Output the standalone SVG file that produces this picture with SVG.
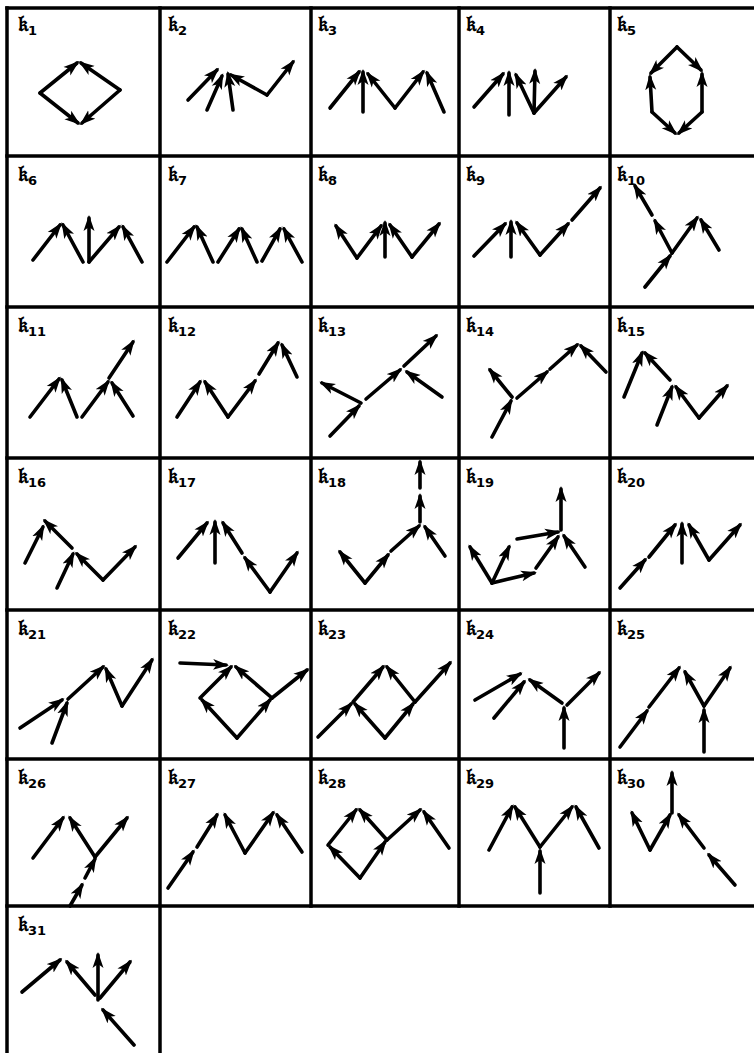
<svg xmlns="http://www.w3.org/2000/svg" width="754" height="1053" viewBox="0 0 754 1053">
<style>
.g{stroke:#000;stroke-width:3.5;fill:none;stroke-linecap:square}
.a line{stroke:#000;stroke-width:3.6;stroke-linecap:round;marker-end:url(#h)}
.lb{font-family:"DejaVu Serif","DejaVu Sans",serif;font-weight:bold;font-size:22px;fill:#000}
.lb tspan{font-family:"DejaVu Sans",sans-serif;font-weight:bold;font-size:13px}
</style>
<defs>
<marker id="h" viewBox="0 0 16 12" markerWidth="16" markerHeight="12" refX="13" refY="6" orient="auto" markerUnits="userSpaceOnUse">
<path d="M0,0.5 L16,6 L0,11.5 L4,6 z" fill="#000"/>
</marker>
</defs>
<rect width="754" height="1053" fill="#fff"/>
<g id="grid" class="g">
<line x1="7" y1="8" x2="754" y2="8"/>
<line x1="7" y1="156" x2="754" y2="156"/>
<line x1="7" y1="307" x2="754" y2="307"/>
<line x1="7" y1="458" x2="754" y2="458"/>
<line x1="7" y1="610" x2="754" y2="610"/>
<line x1="7" y1="759" x2="754" y2="759"/>
<line x1="7" y1="906" x2="754" y2="906"/>
<line x1="7" y1="8" x2="7" y2="1053"/>
<line x1="160" y1="8" x2="160" y2="1053"/>
<line x1="311" y1="8" x2="311" y2="906"/>
<line x1="459" y1="8" x2="459" y2="906"/>
<line x1="610" y1="8" x2="610" y2="906"/>
</g>
<g id="labels">
<text class="lb" x="18" y="31">𝔨<tspan dy="4">1</tspan></text>
<text class="lb" x="168" y="31">𝔨<tspan dy="4">2</tspan></text>
<text class="lb" x="318" y="31">𝔨<tspan dy="4">3</tspan></text>
<text class="lb" x="466" y="31">𝔨<tspan dy="4">4</tspan></text>
<text class="lb" x="617" y="31">𝔨<tspan dy="4">5</tspan></text>
<text class="lb" x="18" y="181">𝔨<tspan dy="4">6</tspan></text>
<text class="lb" x="168" y="181">𝔨<tspan dy="4">7</tspan></text>
<text class="lb" x="318" y="181">𝔨<tspan dy="4">8</tspan></text>
<text class="lb" x="466" y="181">𝔨<tspan dy="4">9</tspan></text>
<text class="lb" x="617" y="181">𝔨<tspan dy="4">10</tspan></text>
<text class="lb" x="18" y="332">𝔨<tspan dy="4">11</tspan></text>
<text class="lb" x="168" y="332">𝔨<tspan dy="4">12</tspan></text>
<text class="lb" x="318" y="332">𝔨<tspan dy="4">13</tspan></text>
<text class="lb" x="466" y="332">𝔨<tspan dy="4">14</tspan></text>
<text class="lb" x="617" y="332">𝔨<tspan dy="4">15</tspan></text>
<text class="lb" x="18" y="483">𝔨<tspan dy="4">16</tspan></text>
<text class="lb" x="168" y="483">𝔨<tspan dy="4">17</tspan></text>
<text class="lb" x="318" y="483">𝔨<tspan dy="4">18</tspan></text>
<text class="lb" x="466" y="483">𝔨<tspan dy="4">19</tspan></text>
<text class="lb" x="617" y="483">𝔨<tspan dy="4">20</tspan></text>
<text class="lb" x="18" y="635">𝔨<tspan dy="4">21</tspan></text>
<text class="lb" x="168" y="635">𝔨<tspan dy="4">22</tspan></text>
<text class="lb" x="318" y="635">𝔨<tspan dy="4">23</tspan></text>
<text class="lb" x="466" y="635">𝔨<tspan dy="4">24</tspan></text>
<text class="lb" x="617" y="635">𝔨<tspan dy="4">25</tspan></text>
<text class="lb" x="18" y="784">𝔨<tspan dy="4">26</tspan></text>
<text class="lb" x="168" y="784">𝔨<tspan dy="4">27</tspan></text>
<text class="lb" x="318" y="784">𝔨<tspan dy="4">28</tspan></text>
<text class="lb" x="466" y="784">𝔨<tspan dy="4">29</tspan></text>
<text class="lb" x="617" y="784">𝔨<tspan dy="4">30</tspan></text>
<text class="lb" x="18" y="931">𝔨<tspan dy="4">31</tspan></text>
</g>
<g id="connectors" class="a">
<g id="k1"><line x1="40" y1="93" x2="77" y2="63"/><line x1="120" y1="90" x2="81" y2="63"/><line x1="40" y1="93" x2="78" y2="123"/><line x1="120" y1="90" x2="82" y2="123"/></g>
<g id="k2"><line x1="188" y1="100" x2="217" y2="70"/><line x1="207" y1="110" x2="222" y2="76"/><line x1="233" y1="110" x2="228" y2="74"/><line x1="267" y1="95" x2="231" y2="75"/><line x1="267" y1="95" x2="293" y2="62"/></g>
<g id="k3"><line x1="330" y1="108" x2="359" y2="72"/><line x1="363" y1="112" x2="363" y2="72"/><line x1="395" y1="108" x2="368" y2="74"/><line x1="395" y1="108" x2="423" y2="72"/><line x1="444" y1="112" x2="427" y2="73"/></g>
<g id="k4"><line x1="474" y1="107" x2="503" y2="74"/><line x1="509" y1="115" x2="509" y2="73"/><line x1="534" y1="113" x2="516" y2="75"/><line x1="534" y1="113" x2="535" y2="71"/><line x1="534" y1="113" x2="566" y2="77"/></g>
<g id="k5"><line x1="677" y1="47" x2="651" y2="73"/><line x1="677" y1="47" x2="701" y2="70"/><line x1="652" y1="112" x2="650" y2="77"/><line x1="702" y1="112" x2="702" y2="74"/><line x1="652" y1="112" x2="675" y2="133"/><line x1="702" y1="112" x2="679" y2="133"/></g>
<g id="k6"><line x1="33" y1="260" x2="60" y2="225"/><line x1="83" y1="262" x2="63" y2="225"/><line x1="89" y1="262" x2="89" y2="218"/><line x1="89" y1="262" x2="119" y2="227"/><line x1="142" y1="262" x2="123" y2="227"/></g>
<g id="k7"><line x1="167" y1="262" x2="194" y2="227"/><line x1="213" y1="262" x2="197" y2="227"/><line x1="218" y1="262" x2="239" y2="229"/><line x1="257" y1="262" x2="242" y2="229"/><line x1="262" y1="261" x2="280" y2="229"/><line x1="302" y1="262" x2="284" y2="229"/></g>
<g id="k8"><line x1="357" y1="258" x2="336" y2="226"/><line x1="357" y1="258" x2="381" y2="226"/><line x1="385" y1="257" x2="385" y2="223"/><line x1="412" y1="257" x2="390" y2="225"/><line x1="412" y1="257" x2="439" y2="224"/></g>
<g id="k9"><line x1="474" y1="256" x2="505" y2="224"/><line x1="511" y1="257" x2="511" y2="222"/><line x1="540" y1="255" x2="517" y2="223"/><line x1="540" y1="255" x2="568" y2="224"/><line x1="572" y1="220" x2="600" y2="188"/></g>
<g id="k10"><line x1="672" y1="253" x2="655" y2="221"/><line x1="652" y1="215" x2="635" y2="186"/><line x1="672" y1="253" x2="697" y2="218"/><line x1="719" y1="250" x2="701" y2="220"/><line x1="645" y1="287" x2="670" y2="256"/></g>
<g id="k11"><line x1="30" y1="417" x2="59" y2="379"/><line x1="77" y1="417" x2="62" y2="380"/><line x1="82" y1="417" x2="108" y2="382"/><line x1="133" y1="416" x2="112" y2="383"/><line x1="109" y1="378" x2="133" y2="342"/></g>
<g id="k12"><line x1="177" y1="417" x2="200" y2="382"/><line x1="228" y1="417" x2="205" y2="382"/><line x1="228" y1="417" x2="255" y2="381"/><line x1="259" y1="374" x2="278" y2="343"/><line x1="297" y1="377" x2="282" y2="345"/></g>
<g id="k13"><line x1="361" y1="403" x2="322" y2="383"/><line x1="330" y1="436" x2="359" y2="406"/><line x1="366" y1="399" x2="400" y2="370"/><line x1="404" y1="366" x2="436" y2="336"/><line x1="442" y1="397" x2="407" y2="372"/></g>
<g id="k14"><line x1="512" y1="397" x2="490" y2="370"/><line x1="492" y1="437" x2="511" y2="401"/><line x1="517" y1="398" x2="547" y2="372"/><line x1="550" y1="369" x2="577" y2="345"/><line x1="606" y1="372" x2="581" y2="346"/></g>
<g id="k15"><line x1="624" y1="397" x2="642" y2="353"/><line x1="670" y1="380" x2="645" y2="353"/><line x1="657" y1="425" x2="672" y2="387"/><line x1="699" y1="418" x2="676" y2="387"/><line x1="699" y1="418" x2="727" y2="386"/></g>
<g id="k16"><line x1="25" y1="563" x2="43" y2="527"/><line x1="72" y1="548" x2="45" y2="521"/><line x1="57" y1="588" x2="73" y2="554"/><line x1="103" y1="580" x2="77" y2="554"/><line x1="103" y1="580" x2="135" y2="547"/></g>
<g id="k17"><line x1="178" y1="558" x2="207" y2="523"/><line x1="215" y1="563" x2="215" y2="522"/><line x1="242" y1="553" x2="223" y2="523"/><line x1="270" y1="592" x2="245" y2="558"/><line x1="270" y1="592" x2="297" y2="553"/></g>
<g id="k18"><line x1="365" y1="583" x2="340" y2="552"/><line x1="365" y1="583" x2="388" y2="555"/><line x1="391" y1="551" x2="419" y2="526"/><line x1="420" y1="522" x2="420" y2="496"/><line x1="420" y1="488" x2="420" y2="462"/><line x1="445" y1="556" x2="425" y2="527"/></g>
<g id="k19"><line x1="561" y1="530" x2="561" y2="489"/><line x1="517" y1="539" x2="558" y2="532"/><line x1="585" y1="567" x2="564" y2="536"/><line x1="536" y1="568" x2="558" y2="537"/><line x1="492" y1="583" x2="534" y2="573"/><line x1="492" y1="583" x2="470" y2="547"/><line x1="492" y1="583" x2="509" y2="547"/></g>
<g id="k20"><line x1="620" y1="588" x2="645" y2="560"/><line x1="649" y1="557" x2="675" y2="525"/><line x1="682" y1="563" x2="682" y2="524"/><line x1="709" y1="560" x2="689" y2="525"/><line x1="709" y1="560" x2="740" y2="525"/></g>
<g id="k21"><line x1="20" y1="728" x2="62" y2="700"/><line x1="52" y1="743" x2="67" y2="703"/><line x1="68" y1="699" x2="103" y2="667"/><line x1="122" y1="706" x2="106" y2="669"/><line x1="122" y1="706" x2="152" y2="660"/></g>
<g id="k22"><line x1="180" y1="663" x2="226" y2="665"/><line x1="200" y1="698" x2="231" y2="667"/><line x1="272" y1="698" x2="236" y2="667"/><line x1="237" y1="738" x2="202" y2="700"/><line x1="237" y1="738" x2="270" y2="700"/><line x1="272" y1="698" x2="307" y2="670"/></g>
<g id="k23"><line x1="318" y1="737" x2="351" y2="704"/><line x1="353" y1="702" x2="383" y2="667"/><line x1="415" y1="702" x2="387" y2="667"/><line x1="385" y1="738" x2="355" y2="704"/><line x1="385" y1="738" x2="413" y2="704"/><line x1="415" y1="702" x2="450" y2="663"/></g>
<g id="k24"><line x1="475" y1="700" x2="520" y2="674"/><line x1="494" y1="718" x2="524" y2="682"/><line x1="562" y1="703" x2="530" y2="680"/><line x1="567" y1="705" x2="599" y2="673"/><line x1="564" y1="748" x2="564" y2="708"/></g>
<g id="k25"><line x1="620" y1="747" x2="647" y2="711"/><line x1="649" y1="707" x2="679" y2="668"/><line x1="704" y1="706" x2="685" y2="672"/><line x1="704" y1="706" x2="730" y2="668"/><line x1="704" y1="752" x2="704" y2="710"/></g>
<g id="k26"><line x1="33" y1="858" x2="63" y2="818"/><line x1="95" y1="857" x2="70" y2="818"/><line x1="95" y1="857" x2="127" y2="818"/><line x1="70" y1="906" x2="82" y2="885"/><line x1="85" y1="878" x2="95" y2="859"/></g>
<g id="k27"><line x1="168" y1="888" x2="193" y2="852"/><line x1="197" y1="847" x2="217" y2="815"/><line x1="245" y1="853" x2="225" y2="815"/><line x1="245" y1="853" x2="273" y2="813"/><line x1="302" y1="852" x2="277" y2="815"/></g>
<g id="k28"><line x1="328" y1="845" x2="356" y2="810"/><line x1="387" y1="840" x2="360" y2="810"/><line x1="360" y1="878" x2="330" y2="847"/><line x1="360" y1="878" x2="385" y2="842"/><line x1="387" y1="840" x2="420" y2="810"/><line x1="449" y1="848" x2="424" y2="812"/></g>
<g id="k29"><line x1="489" y1="850" x2="512" y2="807"/><line x1="540" y1="847" x2="515" y2="807"/><line x1="540" y1="847" x2="572" y2="807"/><line x1="599" y1="848" x2="576" y2="807"/><line x1="540" y1="893" x2="540" y2="851"/></g>
<g id="k30"><line x1="672" y1="813" x2="672" y2="773"/><line x1="650" y1="850" x2="632" y2="813"/><line x1="650" y1="850" x2="670" y2="815"/><line x1="704" y1="848" x2="679" y2="815"/><line x1="735" y1="885" x2="709" y2="855"/></g>
<g id="k31"><line x1="22" y1="992" x2="60" y2="960"/><line x1="95" y1="995" x2="67" y2="962"/><line x1="98" y1="1000" x2="98" y2="955"/><line x1="100" y1="998" x2="130" y2="962"/><line x1="134" y1="1045" x2="103" y2="1010"/></g>
</g>
</svg>
